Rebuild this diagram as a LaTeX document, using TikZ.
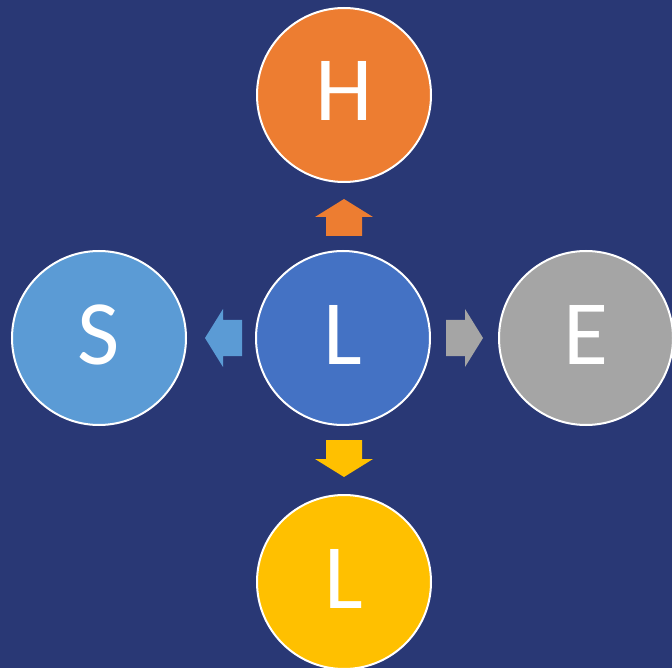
\documentclass[tikz,border=0pt]{standalone}
\usepackage{fontspec}
\setmainfont{Carlito}
\definecolor{bgnavy}{RGB}{41,56,117}
\definecolor{cOrange}{HTML}{ED7D31}
\definecolor{cBlue}{HTML}{4472C4}
\definecolor{cLight}{HTML}{5B9BD5}
\definecolor{cGray}{HTML}{A5A5A5}
\definecolor{cGold}{HTML}{FFC000}
\begin{document}
\begin{tikzpicture}[x=1pt,y=-1pt,
  disc/.style={circle,draw=white,line width=2pt,minimum size=174pt,inner sep=0pt},
  letter/.style={text=white,font=\fontsize{92}{92}\selectfont,anchor=base,inner sep=0pt},
  blockarrow/.pic={\fill[#1] (0,-18)--(19,-18)--(19,-29)--(37,0)--(19,29)--(19,18)--(0,18)--cycle;}]
  % background
  \fill[bgnavy] (0,0) rectangle (672,668);
  \useasboundingbox (0,0) rectangle (672,668);
  % discs
  \node[disc,fill=cBlue]   (mid)   at (343,338) {};
  \node[disc,fill=cOrange] (top)   at (344,95)  {};
  \node[disc,fill=cLight]  (left)  at (99,338)  {};
  \node[disc,fill=cGray]   (right) at (586,338) {};
  \node[disc,fill=cGold]   (bot)   at (344,582) {};
  % letters
  \node[letter] at (343,364) {L};
  \node[letter] at (344,121) {H};
  \node[letter] at (99,364)  {S};
  \node[letter] at (586,364) {E};
  \node[letter] at (344,608) {L};
  % block arrows
  \pic[rotate=90]  at (344,236) {blockarrow=cOrange};
  \pic[rotate=180] at (242,338) {blockarrow=cLight};
  \pic             at (446,338) {blockarrow=cGray};
  \pic[rotate=-90] at (344,440) {blockarrow=cGold};
\end{tikzpicture}
\end{document}
